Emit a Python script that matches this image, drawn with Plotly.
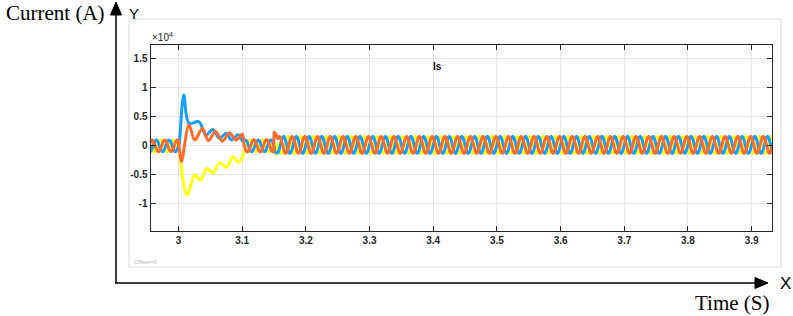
import numpy as np
import plotly.graph_objects as go

# ---------------- data ----------------
T_START, T_END = 2.956, 3.932          # visible time window (s)
FAULT_T = 3.0                           # start of the disturbance
CLEAR_T = 3.10                          # end of the decaying transient
RECLOSE_T = 3.15                        # new steady state begins
FREQ_HZ = 50.0

# drawing order: yellow under, blue, orange on top
phase_colors = ["#FFFF11", "#139FFF", "#FF6929"]
phase_shift_deg = [-120, 0, 120]

pre_amp = [1000, 1000, 1000]            # A, before 3.0 s
mid_amp = [1000, 1000, 1050]            # A, 3.10 .. 3.15 s
post_amp = [1450, 1450, 1450]           # A, after 3.15 s
post_offset = [150, 150, 150]           # A

# transient peaks / troughs (time s, current A)
yellow_tr_t = [3.0015, 3.0134, 3.0255, 3.0344, 3.0448, 3.0540, 3.0647, 3.0750, 3.0857, 3.0935, 3.1000]
yellow_tr_v = [-1500, -8500, -5000, -5900, -3900, -4700, -2900, -3700, -1900, -2800, -2000]
blue_tr_t = [3.0010, 3.0082, 3.0165, 3.0320, 3.0430, 3.0540, 3.0640, 3.0750, 3.0830, 3.0935, 3.1000]
blue_tr_v = [300, 8760, 3900, 4150, 1860, 2800, 1300, 2150, 1000, 1900, 900]
orange_tr_t = [3.0010, 3.0045, 3.0165, 3.0255, 3.0375, 3.0470, 3.0580, 3.0690, 3.0800, 3.0900, 3.1000]
orange_tr_v = [-200, -2700, 3600, 1000, 3000, 900, 2450, 800, 2200, 1000, 2000]

# short disturbance when the new steady state starts
yellow_re_t, yellow_re_v = [3.1530], [-1600]
blue_re_t, blue_re_v = [3.1520], [-1100]
orange_re_t, orange_re_v = [3.1505], [2400]

x_tick_vals = [3.0, 3.1, 3.2, 3.3, 3.4, 3.5, 3.6, 3.7, 3.8, 3.9]
x_tick_text = ["3", "3.1", "3.2", "3.3", "3.4", "3.5", "3.6", "3.7", "3.8", "3.9"]
y_tick_vals = [-10000, -5000, 0, 5000, 10000, 15000]
y_tick_text = ["-1", "-0.5", "0", "0.5", "1", "1.5"]
Y_RANGE = [-14690, 17380]
# -------------------------------------------------------------

tr_t = [yellow_tr_t, blue_tr_t, orange_tr_t]
tr_v = [yellow_tr_v, blue_tr_v, orange_tr_v]
re_t = [yellow_re_t, blue_re_t, orange_re_t]
re_v = [yellow_re_v, blue_re_v, orange_re_v]


def carrier(t0, t1, amp, shift, off=0.0):
    t = np.arange(t0, t1, 1.0 / (FREQ_HZ * 40))
    return t, amp * np.sin(2 * np.pi * FREQ_HZ * t + np.deg2rad(shift)) + off


fig = go.Figure()
for k in range(3):
    t_pre, v_pre = carrier(T_START - 0.002, FAULT_T, pre_amp[k], phase_shift_deg[k])
    t_mid, v_mid = carrier(CLEAR_T + 0.003, RECLOSE_T, mid_amp[k], phase_shift_deg[k])
    t_post, v_post = carrier(RECLOSE_T + 0.006, T_END + 0.002, post_amp[k], phase_shift_deg[k], post_offset[k])
    t_all = np.concatenate([t_pre, tr_t[k], t_mid, re_t[k], t_post])
    v_all = np.concatenate([v_pre, tr_v[k], v_mid, re_v[k], v_post])
    fig.add_trace(go.Scatter(x=t_all, y=v_all, mode="lines",
                             line=dict(color=phase_colors[k], width=3, shape="spline", smoothing=1.0),
                             hoverinfo="skip"))

W, H = 793, 316
px = lambda x: x / W
py = lambda y: 1 - y / H

axis_font = dict(family="Liberation Sans, Arial", size=10, color="#262626")
fig.update_layout(
    width=W, height=H, margin=dict(l=0, r=0, t=0, b=0),
    paper_bgcolor="white", plot_bgcolor="white", showlegend=False,
    xaxis=dict(domain=[px(150.5), px(772)], range=[T_START, T_END],
               tickvals=x_tick_vals, ticktext=["<b>%s</b>" % s for s in x_tick_text],
               ticks="inside", ticklen=5, tickcolor="#262626", showline=True, linecolor="#262626",
               linewidth=1, mirror="ticks", showgrid=True, gridcolor="#e6e6e6", zeroline=False,
               tickfont=axis_font),
    yaxis=dict(domain=[py(231), py(45)], range=Y_RANGE,
               tickvals=y_tick_vals, ticktext=["<b>%s</b>" % s for s in y_tick_text],
               ticks="inside", ticklen=5, tickcolor="#262626", showline=True, linecolor="#262626",
               linewidth=1, mirror="ticks", showgrid=True, gridcolor="#e6e6e6", zeroline=False,
               tickfont=axis_font),
)

shapes = [
    # scope panel border
    dict(type="rect", xref="paper", yref="paper", x0=px(129), x1=px(781), y0=py(267), y1=py(19),
         line=dict(color="#dddddd", width=1), layer="below"),
    # outer Y axis arrow
    dict(type="line", xref="paper", yref="paper", x0=px(116), x1=px(116), y0=py(283), y1=py(12),
         line=dict(color="black", width=1.5)),
    dict(type="path", xref="paper", yref="paper",
         path="M %f,%f L %f,%f L %f,%f Z" % (px(116), py(2), px(110.5), py(15), px(121.5), py(15)),
         fillcolor="black", line=dict(color="black", width=1)),
    # outer X axis arrow
    dict(type="line", xref="paper", yref="paper", x0=px(115), x1=px(758), y0=py(283), y1=py(283),
         line=dict(color="black", width=1.5)),
    dict(type="path", xref="paper", yref="paper",
         path="M %f,%f L %f,%f L %f,%f Z" % (px(768), py(283), px(755), py(277.5), px(755), py(288.5)),
         fillcolor="black", line=dict(color="black", width=1)),
]
fig.update_layout(shapes=shapes)

serif = "Liberation Serif, Times New Roman"
ann = [
    dict(text="Current (A)", x=px(107), y=py(13), xanchor="right", yanchor="middle",
         font=dict(family=serif, size=21, color="black")),
    dict(text="Y", x=px(127), y=py(13), xanchor="left", yanchor="middle",
         font=dict(family="Liberation Sans", size=15, color="black")),
    dict(text="X", x=px(778), y=py(283), xanchor="left", yanchor="middle",
         font=dict(family="Liberation Sans", size=17, color="black")),
    dict(text="Time (S)", x=px(772), y=py(303), xanchor="right", yanchor="middle",
         font=dict(family=serif, size=21, color="black")),
    dict(text="×10<sup>4</sup>", x=px(150), y=py(37), xanchor="left", yanchor="middle",
         font=dict(family="Liberation Sans", size=10, color="#262626")),
    dict(text="<b>Is</b>", x=px(437), y=py(66), xanchor="center", yanchor="middle",
         font=dict(family="Liberation Sans", size=10, color="#111111")),
    dict(text="Offset=0", x=px(132), y=py(262), xanchor="left", yanchor="middle",
         font=dict(family="Liberation Sans", size=6, color="#bbbbbb")),
]
for a in ann:
    a.update(xref="paper", yref="paper", showarrow=False)
fig.update_layout(annotations=ann)

fig.write_html("out.html", config={"displayModeBar": False},
               post_script="document.body.style.margin='0';document.body.style.overflow='hidden';")
